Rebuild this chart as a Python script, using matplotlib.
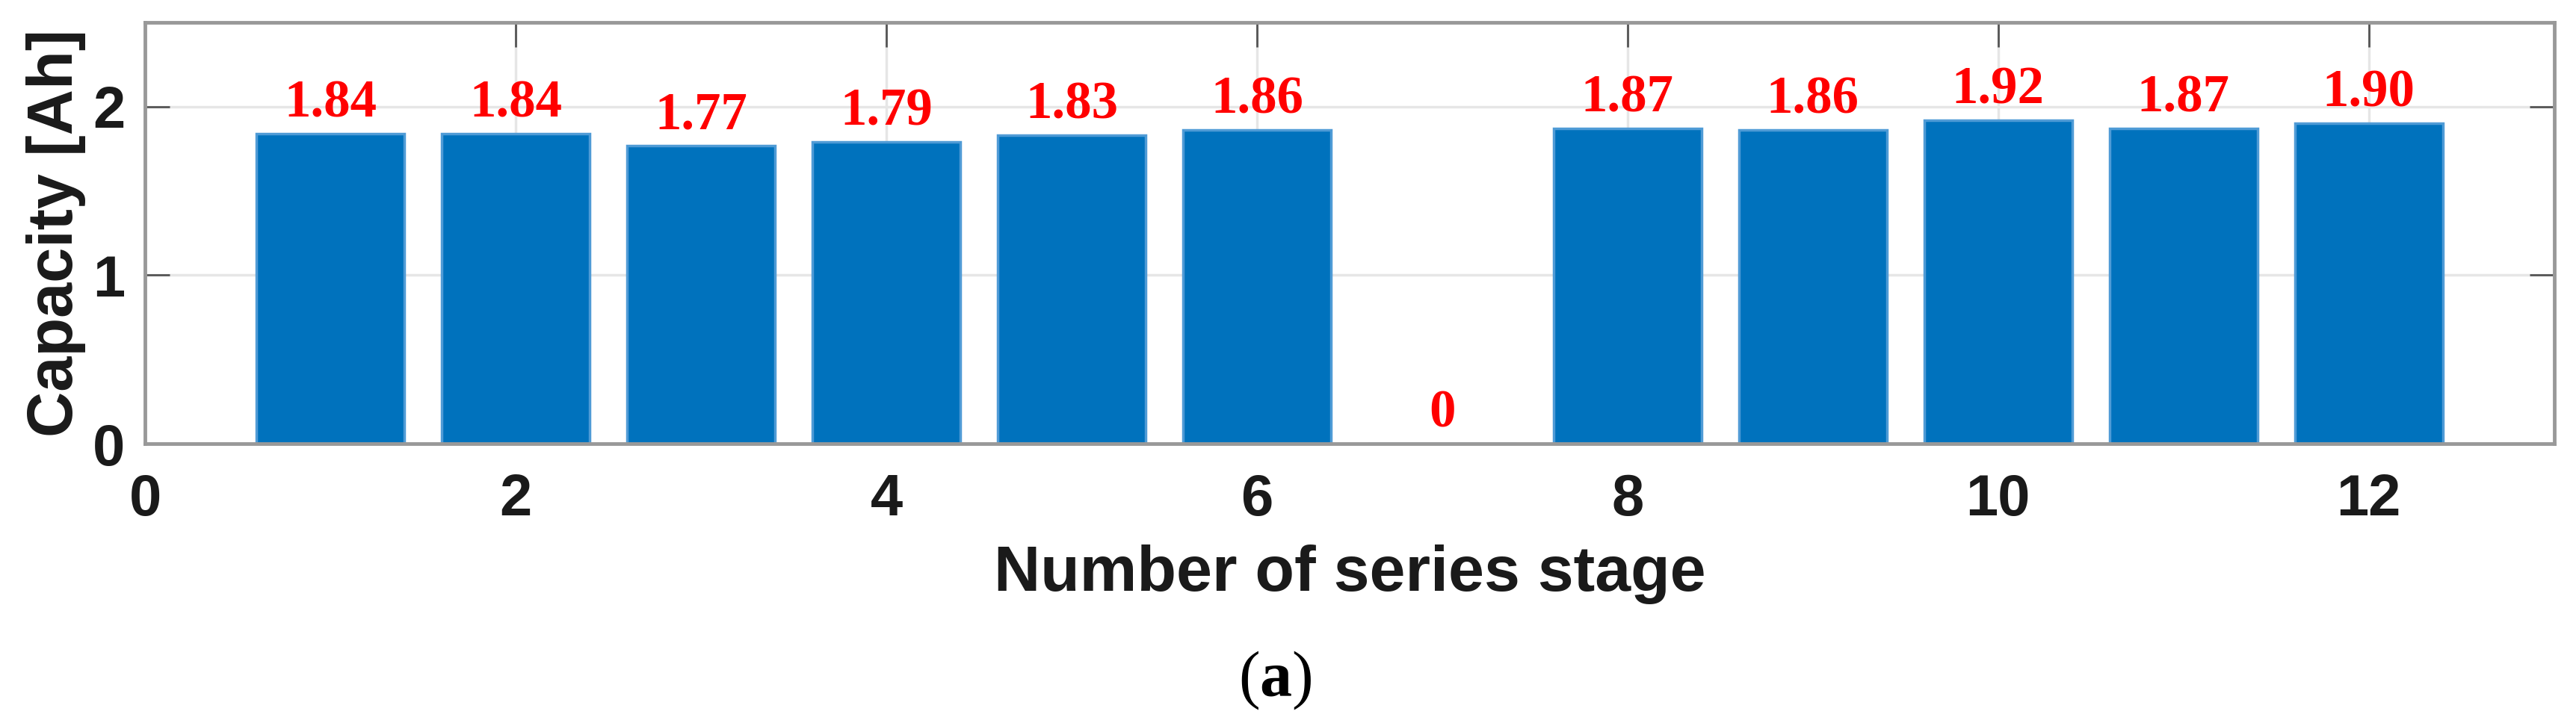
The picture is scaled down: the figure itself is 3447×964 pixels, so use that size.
import matplotlib.pyplot as plt
import numpy as np

plt.rcParams['font.family'] = ['Liberation Sans', 'DejaVu Sans']
plt.rcParams['mathtext.fontset'] = 'custom'
plt.rcParams['mathtext.rm'] = 'Liberation Serif'
plt.rcParams['mathtext.bf'] = 'Liberation Serif:bold'

stages = [1, 2, 3, 4, 5, 6, 7, 8, 9, 10, 11, 12]
capacity = [1.84, 1.84, 1.77, 1.79, 1.83, 1.86, 0, 1.87, 1.86, 1.92, 1.87, 1.90]
value_labels = ["1.84", "1.84", "1.77", "1.79", "1.83", "1.86", "0",
                "1.87", "1.86", "1.92", "1.87", "1.90"]
x_ticks = [0, 2, 4, 6, 8, 10, 12]
y_ticks = [0, 1, 2]

fig = plt.figure(figsize=(34.48, 9.64), dpi=100)
ax = fig.add_axes([0.0563, 0.3838, 0.9349, 0.5851])

ax.bar(stages, capacity, width=0.8, color="#0072BD",
       edgecolor="#4f9bd6", linewidth=2.5, zorder=3)

for x, v, lab in zip(stages, capacity, value_labels):
    ax.text(x, v + 0.1, lab, ha="center", va="baseline", color="red",
            fontsize=51, fontweight="bold", family="Liberation Serif", zorder=4)

ax.set_xlim(0, 13)
ax.set_ylim(0, 2.5)
ax.set_xticks(x_ticks)
ax.set_yticks(y_ticks)
ax.grid(True, color="#e6e6e6", linewidth=2.5, zorder=0)
ax.set_axisbelow(True)

ax.tick_params(direction="in", length=24, width=2, color="#555555",
               labelsize=56, top=True, right=True)
ax.tick_params(axis="x", pad=28)
ax.tick_params(axis="y", pad=19)
for lab in ax.get_xticklabels() + ax.get_yticklabels():
    lab.set_fontweight("bold")
    lab.set_color("#1a1a1a")

for s in ax.spines.values():
    s.set_color("#999999")
    s.set_linewidth(3.5)
    s.set_zorder(5)

ax.set_xlabel("Number of series stage", fontsize=62, fontweight="bold",
              color="#1a1a1a")
ax.set_ylabel("Capacity [Ah]", fontsize=61, fontweight="bold",
              color="#1a1a1a")
ax.xaxis.set_label_coords(0.5, -0.239)
ax.yaxis.set_label_coords(-0.0245, 0.5)

fig.text(0.495, 0.055, r"($\mathbf{a}$)", ha="center", va="center",
         fontsize=62, family="Liberation Serif")

fig.savefig("out.png", dpi=100)
